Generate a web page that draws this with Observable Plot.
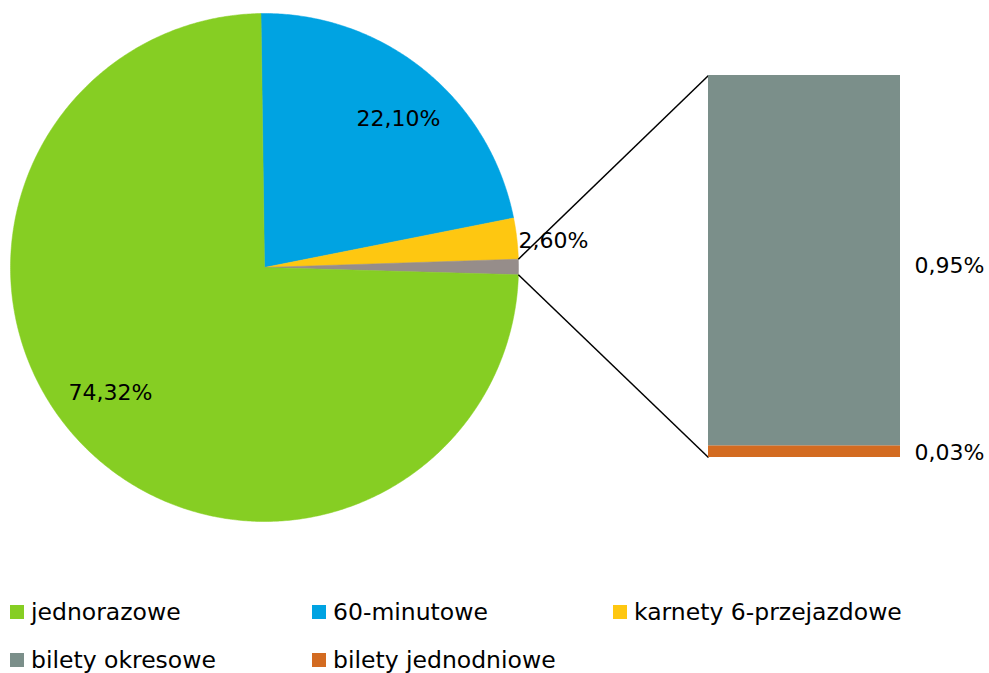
<!DOCTYPE html>
<html><head><meta charset="utf-8">
<script src="https://cdn.jsdelivr.net/npm/d3@7"></script>
<script src="https://cdn.jsdelivr.net/npm/@observablehq/plot@0.6"></script>
<style>
body{margin:0;background:#fff;font-family:"DejaVu Sans",sans-serif;}
#legend{display:grid;grid-template-columns:302px 301px 380px;padding-left:10px;font-size:23.5px;color:#000;}
#legend div{height:48px;display:flex;align-items:center;white-space:nowrap;}
#legend span.sw{display:inline-block;width:14px;height:14px;margin-right:7px;}
</style></head>
<body><div id="chart"></div><div id="legend"></div>
<script>
// data
const pieCategories = ["60-minutowe", "karnety 6-przejazdowe", "inne", "jednorazowe"];
const pieValues = [22.10, 2.60, 0.98, 74.32];
const pieLabels = ["22,10%", "2,60%", "", "74,32%"];
const pieColors = ["#00A3E2", "#FEC711", "#968D8A", "#86CE23"];
const barCategories = ["bilety jednodniowe", "bilety okresowe"];
const barValues = [0.03, 0.95];
const barLabels = ["0,03%", "0,95%"];
const barColors = ["#D36B21", "#7B8F8A"];
const legendCategories = ["jednorazowe", "60-minutowe", "karnety 6-przejazdowe", "bilety okresowe", "bilety jednodniowe"];
const legendColors = ["#86CE23", "#00A3E2", "#FEC711", "#7B8F8A", "#D36B21"];

const W = 989, H = 588;
const cx = 264, cy = 267, R = 254;
const barX1 = 708, barX2 = 900, barTop = 75, barBottom = 457;
const rot = -0.8 * Math.PI / 180;

const arcs = d3.pie().sort(null).startAngle(rot).endAngle(rot + 2 * Math.PI).value(d => d)(pieValues);
const slicePts = [];
arcs.forEach((a, i) => {
  const n = Math.max(4, Math.ceil((a.endAngle - a.startAngle) * 120));
  slicePts.push({k: i, x: cx, y: cy});
  for (let s = 0; s <= n; s++) {
    const t = a.startAngle + (a.endAngle - a.startAngle) * s / n;
    slicePts.push({k: i, x: cx + R * Math.sin(t), y: cy - R * Math.cos(t)});
  }
  slicePts.push({k: i, x: cx, y: cy});
});
const labelPos = [[398, 118], [553, 240], null, [110, 392]];
const pieText = pieLabels.map((l, i) => ({l, p: labelPos[i]})).filter(d => d.l);

const barTotal = d3.sum(barValues);
const pxPer = (barBottom - barTop) / barTotal;
let acc = 0;
const barRects = barValues.map((v, i) => {
  const r = {i, y2: barBottom - acc * pxPer, y1: barBottom - (acc + v) * pxPer};
  acc += v; return r;
});
const otherArc = arcs[2];
const lines = [
  {x1: cx + R * Math.sin(otherArc.startAngle), y1: cy - R * Math.cos(otherArc.startAngle), x2: barX1, y2: barTop},
  {x1: cx + R * Math.sin(otherArc.endAngle), y1: cy - R * Math.cos(otherArc.endAngle), x2: barX1, y2: barBottom}
];
const barText = [{l: barLabels[0], y: 452}, {l: barLabels[1], y: 265}];

const plot = Plot.plot({
  width: W, height: H, margin: 0,
  x: {domain: [0, W], range: [0, W], axis: null},
  y: {domain: [0, H], range: [0, H], axis: null},
  style: {fontFamily: "DejaVu Sans, sans-serif", fontSize: "22px"},
  marks: [
    Plot.line(slicePts, {x: "x", y: "y", z: "k", fill: d => pieColors[d.k], stroke: d => pieColors[d.k], strokeWidth: 0.5}),
    Plot.link(lines, {x1: "x1", y1: "y1", x2: "x2", y2: "y2", stroke: "#000", strokeWidth: 1.5}),
    Plot.rect(barRects, {x1: barX1, x2: barX2, y1: "y1", y2: "y2", fill: d => barColors[d.i]}),
    Plot.text(pieText, {x: d => d.p[0], y: d => d.p[1], text: "l", fill: "#000", fontSize: 22}),
    Plot.text(barText, {x: 949, y: "y", text: "l", fill: "#000", fontSize: 22})
  ]
});
document.getElementById("chart").appendChild(plot);

const lg = document.getElementById("legend");
legendCategories.forEach((c, i) => {
  const d = document.createElement("div");
  d.innerHTML = `<span class="sw" style="background:${legendColors[i]}"></span>${c}`;
  lg.appendChild(d);
});
</script></body></html>
